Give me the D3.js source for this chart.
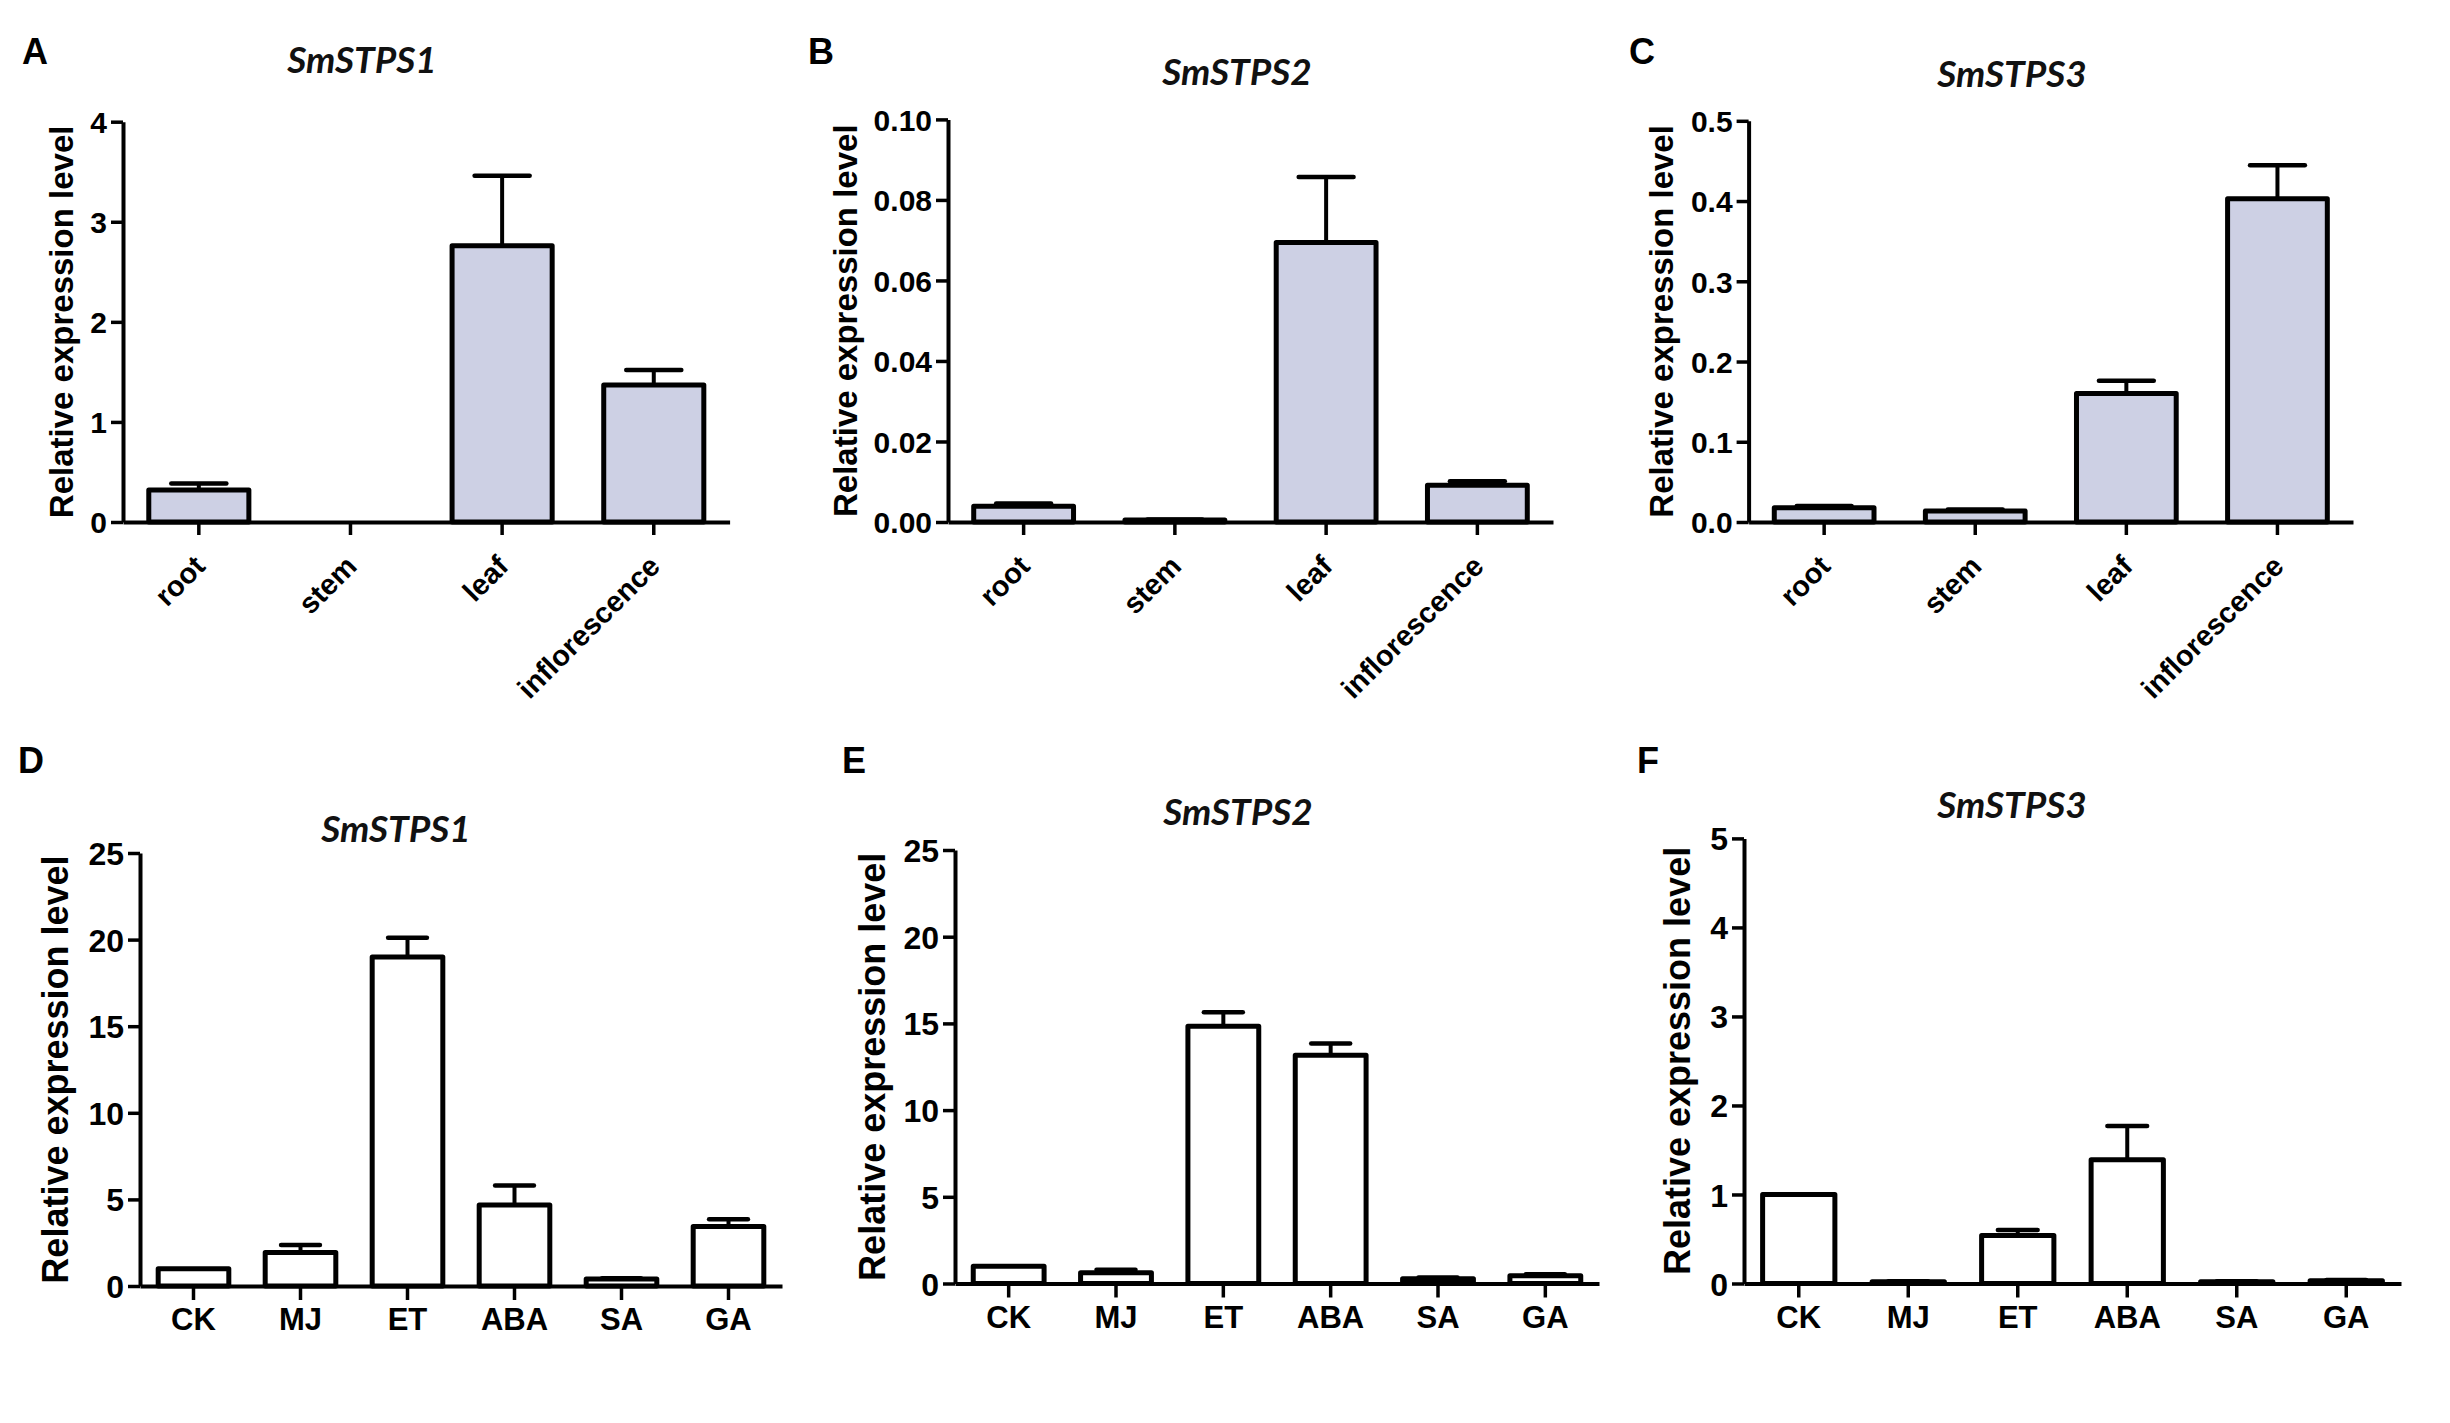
<!DOCTYPE html>
<html>
<head>
<meta charset="utf-8">
<script src="https://cdn.jsdelivr.net/npm/d3@7"></script>
<style>
  html,body{margin:0;padding:0;background:#fff;}
  svg{display:block;}
  .tick text{font-family:"Liberation Sans",Arial,sans-serif;font-weight:bold;fill:#000;}
</style>
</head>
<body>
<div id="chart"></div>
<script>
// Expression of SmSTPS1-3: tissues (A-C) and hormone treatments (D-F)
const genes = ["SmSTPS1", "SmSTPS2", "SmSTPS3"];
const tissues = ["root", "stem", "leaf", "inflorescence"];
const treatments = ["CK", "MJ", "ET", "ABA", "SA", "GA"];

// tissue means / SEM
const tissueMean1 = [0.32, 0, 2.76, 1.37];
const tissueSem1  = [0.065, 0, 0.70, 0.15];
const tissueMean2 = [0.0039, 0.0005, 0.0694, 0.0091];
const tissueSem2  = [0.0007, 0.0001, 0.0163, 0.0010];
const tissueMean3 = [0.0177, 0.0137, 0.160, 0.403];
const tissueSem3  = [0.0022, 0.0018, 0.016, 0.0415];

// treatment means / SEM
const treatMean1 = [1.0, 1.93, 19.0, 4.67, 0.40, 3.44];
const treatSem1  = [0, 0.43, 1.1, 1.13, 0.05, 0.42];
const treatMean2 = [1.0, 0.62, 14.84, 13.16, 0.27, 0.45];
const treatSem2  = [0, 0.18, 0.81, 0.68, 0.08, 0.08];
const treatMean3 = [1.0, 0.02, 0.54, 1.39, 0.02, 0.03];
const treatSem3  = [0, 0.005, 0.06, 0.38, 0.005, 0.01];

// y tick values
const ticksA = [0, 1, 2, 3, 4];
const ticksB = [0, 0.02, 0.04, 0.06, 0.08, 0.10];
const ticksC = [0, 0.1, 0.2, 0.3, 0.4, 0.5];
const ticksD = [0, 5, 10, 15, 20, 25];
const ticksE = [0, 5, 10, 15, 20, 25];
const ticksF = [0, 1, 2, 3, 4, 5];

const W = 2450, H = 1423;
const FONT = '"Liberation Sans", Arial, sans-serif';
const TITLE_FONT = 'Lato, "Open Sans", sans-serif';

// layout per panel (pixels)
const panels = [
  {id:"A", gene:genes[0], cats:tissues, mean:tissueMean1, sem:tissueSem1, ticks:ticksA, fmt:d3.format("d"),
   x0:123, x1:729.6, yTop:121.7, yZero:522, letter:[22,64], title:[362,73], ylab:73, top:true},
  {id:"B", gene:genes[1], cats:tissues, mean:tissueMean2, sem:tissueSem2, ticks:ticksB, fmt:d3.format(".2f"),
   x0:948, x1:1553, yTop:119.4, yZero:522, letter:[808,64], title:[1237,85], ylab:857, top:true},
  {id:"C", gene:genes[2], cats:tissues, mean:tissueMean3, sem:tissueSem3, ticks:ticksC, fmt:d3.format(".1f"),
   x0:1748.6, x1:2353, yTop:120.8, yZero:522, letter:[1629,64], title:[2012,87], ylab:1673, top:true},
  {id:"D", gene:genes[0], cats:treatments, mean:treatMean1, sem:treatSem1, ticks:ticksD, fmt:d3.format("d"),
   x0:140, x1:782, yTop:853, yZero:1286, letter:[18,773], title:[396,842], ylab:68, top:false},
  {id:"E", gene:genes[1], cats:treatments, mean:treatMean2, sem:treatSem2, ticks:ticksE, fmt:d3.format("d"),
   x0:955, x1:1599, yTop:850, yZero:1283.5, letter:[842,773], title:[1238,825], ylab:885, top:false},
  {id:"F", gene:genes[2], cats:treatments, mean:treatMean3, sem:treatSem3, ticks:ticksF, fmt:d3.format("d"),
   x0:1744, x1:2401, yTop:838.4, yZero:1283.5, letter:[1637,773], title:[2012,818], ylab:1690, top:false}
];

const svg = d3.select("#chart").append("svg").attr("width", W).attr("height", H)
  .attr("viewBox", `0 0 ${W} ${H}`);
svg.append("rect").attr("width", W).attr("height", H).attr("fill", "#fff");

panels.forEach(p => {
  const g = svg.append("g");
  const x = d3.scaleBand().domain(p.cats).range([p.x0, p.x1]).paddingInner(0.34).paddingOuter(0.17);
  const y = d3.scaleLinear().domain([0, d3.max(p.ticks)]).range([p.yZero, p.yTop]);
  const rows = p.cats.map((c, i) => ({c, v:p.mean[i], e:p.sem[i]}));
  const bw = x.bandwidth(), capW = bw * 0.55;
  const tickFs = p.top ? 30 : 32;

  // error bars (upper only)
  rows.filter(d => d.e > 0).forEach(d => {
    const cx = x(d.c) + bw / 2;
    g.append("line").attr("x1", cx).attr("x2", cx).attr("y1", y(d.v)).attr("y2", y(d.v + d.e))
      .attr("stroke", "#000").attr("stroke-width", 4);
    g.append("line").attr("x1", cx - capW / 2).attr("x2", cx + capW / 2).attr("y1", y(d.v + d.e)).attr("y2", y(d.v + d.e))
      .attr("stroke", "#000").attr("stroke-width", 4.5).attr("stroke-linecap", "round");
  });

  // bars
  g.selectAll("rect.bar").data(rows).join("rect").attr("class", "bar")
    .attr("x", d => x(d.c)).attr("width", bw)
    .attr("y", d => y(d.v)).attr("height", d => p.yZero - y(d.v))
    .attr("fill", p.top ? "#cdd0e4" : "#fff")
    .attr("stroke", "#000").attr("stroke-width", 5).attr("stroke-linejoin", "round");

  // y axis
  const ya = g.append("g").attr("transform", `translate(${p.x0},0)`)
    .call(d3.axisLeft(y).tickValues(p.ticks).tickFormat(p.fmt).tickSize(12).tickSizeOuter(0).tickPadding(4));
  ya.select(".domain").attr("stroke-width", 4);
  ya.selectAll(".tick line").attr("stroke-width", 3.5);
  ya.selectAll(".tick text").attr("font-size", tickFs).attr("dy", "0.36em");

  // x axis
  const xa = g.append("g").attr("transform", `translate(0,${p.yZero})`)
    .call(d3.axisBottom(x).tickSize(p.top ? 13 : 14).tickSizeOuter(0));
  xa.select(".domain").attr("stroke-width", 4);
  xa.selectAll(".tick line").attr("stroke-width", 3.5);
  if (p.top) {
    xa.selectAll(".tick text").attr("font-size", 29).attr("x", 0).attr("y", 0).attr("dy", 0)
      .attr("text-anchor", "end").attr("transform", "translate(8,46) rotate(-45)");
  } else {
    xa.selectAll(".tick text").attr("font-size", 31).attr("y", 44).attr("dy", 0);
  }

  // y label
  g.append("text").attr("transform", `translate(${p.ylab},${(p.yTop + p.yZero) / 2}) rotate(-90)`)
    .attr("text-anchor", "middle").attr("font-family", FONT).attr("font-weight", "bold")
    .attr("font-size", p.top ? 33 : 36).text("Relative expression level");

  // gene title
  g.append("text").attr("x", p.title[0]).attr("y", p.title[1]).attr("text-anchor", "middle")
    .attr("font-family", TITLE_FONT).attr("font-weight", "bold").attr("font-style", "italic")
    .attr("font-size", 37).attr("fill", "#111").text(p.gene);

  // panel letter
  g.append("text").attr("x", p.letter[0]).attr("y", p.letter[1])
    .attr("font-family", FONT).attr("font-weight", "bold").attr("font-size", 36).text(p.id);
});
</script>
</body>
</html>
